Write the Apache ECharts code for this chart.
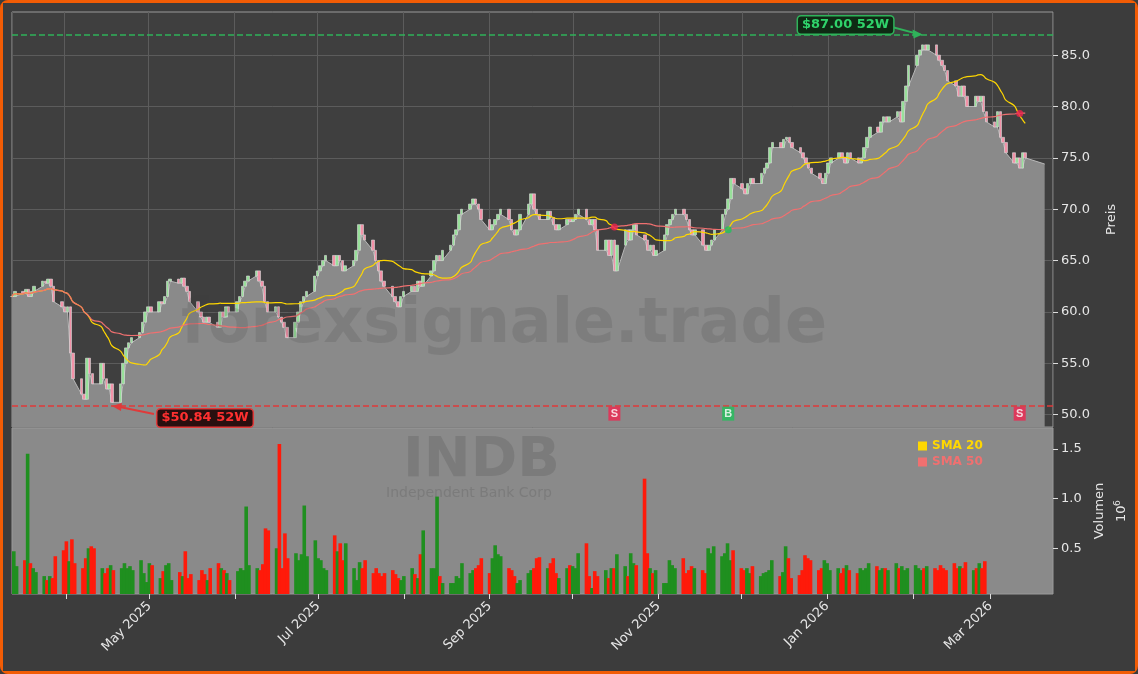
<!DOCTYPE html>
<html>
<head>
<meta charset="utf-8">
<script src="https://cdn.jsdelivr.net/npm/echarts@6/dist/echarts.min.js"></script>
<style>
  html, body { margin: 0; padding: 0; background: #3c3c3c; }
  #main { width: 1132px; height: 668px; border: 3px solid #f25c05; border-radius: 8px; background: #3c3c3c; }
</style>
</head>
<body>
<div id="main"></div>
<script>
const startDate = "2025-03-13";
const closes = [
  61.5, 62, 61.8, 62.2, 61.5,   62, 62.5, 63, 62.8, 63.2,   62.5, 61, 60.5, 60, 60.5,
  56, 53.5, 52, 51.5, 55.5,     54, 53, 55, 53.5, 52.5,     53, 51.2, 53, 55, 56.5,
  57, 57.5, 58, 59, 60,         60.5, 60, 61, 60.8, 61.5,   63, 63.2, 62.8, 63.3, 62.5,
  62, 61, 60, 59.5, 59,         59.5, 59, 58.5, 60, 59.5,   60.5, 60, 61, 61.5, 62.5,
  63, 63.5, 64, 63, 62.5,       61, 60, 60.5, 59.5, 59,     58.5, 57.5, 59, 60, 61,
  61.5, 62, 63.5, 64, 64.5,     65, 65.5, 64.5, 65.5, 65,   64, 64.5, 65, 66, 68.5,
  67.5, 67, 66, 65, 64,         63, 62.5, 61.5, 61, 60.5,   61.5, 62, 62.5, 62, 63,
  62.5, 63.5, 64, 65, 65.5,     65, 66, 66.5, 67.5, 68,     69.5, 70, 70.5, 71, 70.5,
  70, 69, 68, 68.5, 69,         69.5, 70, 69, 68, 67.5,     68, 69.5, 70.5, 71.5, 70,
  69.5, 69, 69.8, 69.2, 68.5,   68, 68.5, 69, 68.8, 69,     69.5, 70, 69, 68.5, 69,
  68, 66, 67, 65.5, 67,         64, 66.5, 68, 67, 68,       68.5, 67.5, 67, 66, 66.5,
  65.5, 66, 67.5, 68.5, 69,     69.5, 70, 69.5, 69, 68,     67.5, 68, 66.5, 66, 66.5,
  67, 68, 69.5, 70, 71,         73, 72.5, 72, 71.5, 72.5,   73, 72.5, 73.5, 74, 74.5,
  76, 76.5, 76, 76.8, 77,       76.5, 76, 75.5, 75, 74.5,   74, 73.5, 73, 72.5, 73.5,
  74.5, 75, 75.5, 75, 74.5,     75.5, 75, 74.5, 75, 76,     77, 78, 77.5, 78.5, 79,
  78.5, 79, 79.5, 78.5, 80.5,   82, 84, 85, 85.5, 86,       85.5, 86, 85, 84.5, 84,
  83.5, 82.5, 82, 81, 82,       81, 80, 81, 80.5, 81,       79.5, 78.5, 78, 79.5, 77,
  76.5, 75.5, 74.5, 75, 74,     75.5, 75
];
const volumes = [
  0.47, 0.32, 0.38, 1.45, 0.35,  0.30, 0.26, 0.22, 0.18, 0.22,  0.20, 0.42, 0.48, 0.57, 0.37,
  0.59, 0.35, 0.30, 0.40, 0.50,  0.52, 0.50, 0.30, 0.25, 0.30,  0.33, 0.28, 0.30, 0.35, 0.30,
  0.32, 0.28, 0.38, 0.25, 0.16,  0.35, 0.33, 0.20, 0.27, 0.33,  0.35, 0.18, 0.26, 0.22, 0.47,
  0.20, 0.24, 0.18, 0.28, 0.24,  0.18, 0.30, 0.35, 0.30, 0.28,  0.25, 0.18, 0.27, 0.30, 0.28,
  0.92, 0.33, 0.30, 0.28, 0.34,  0.70, 0.68, 0.50, 1.55, 0.30,  0.65, 0.40, 0.45, 0.38, 0.44,
  0.93, 0.42, 0.58, 0.40, 0.38,  0.30, 0.28, 0.63, 0.47, 0.55,  0.38, 0.55, 0.30, 0.18, 0.36,
  0.30, 0.38, 0.25, 0.30, 0.25,  0.22, 0.25, 0.28, 0.24, 0.20,  0.18, 0.22, 0.30, 0.24, 0.20,
  0.44, 0.68, 0.30, 0.30, 1.02,  0.22, 0.15, 0.15, 0.15, 0.22,  0.20, 0.35, 0.25, 0.28, 0.30,
  0.33, 0.40, 0.25, 0.40, 0.53,  0.44, 0.42, 0.30, 0.28, 0.22,  0.15, 0.18, 0.25, 0.28, 0.30,
  0.40, 0.41, 0.30, 0.35, 0.40,  0.25, 0.20, 0.30, 0.33, 0.32,  0.30, 0.45, 0.55, 0.22, 0.10,
  0.27, 0.22, 0.28, 0.20, 0.30,  0.30, 0.44, 0.32, 0.22, 0.45,  0.35, 0.33, 1.20, 0.45, 0.30,
  0.25, 0.28, 0.15, 0.15, 0.38,  0.33, 0.30, 0.40, 0.25, 0.28,  0.32, 0.30, 0.28, 0.25, 0.50,
  0.45, 0.52, 0.42, 0.45, 0.55,  0.38, 0.48, 0.30, 0.28, 0.30,  0.25, 0.32, 0.22, 0.25, 0.26,
  0.28, 0.38, 0.22, 0.26, 0.52,  0.40, 0.20, 0.23, 0.28, 0.43,  0.40, 0.38, 0.28, 0.30, 0.38,
  0.35, 0.28, 0.30, 0.25, 0.30,  0.33, 0.28, 0.25, 0.30, 0.28,  0.30, 0.35, 0.32, 0.28, 0.30,
  0.30, 0.28, 0.35, 0.30, 0.32,  0.28, 0.30, 0.33, 0.30, 0.28,  0.30, 0.32, 0.30, 0.28, 0.33,
  0.30, 0.28, 0.35, 0.30, 0.32,  0.30, 0.36, 0.28, 0.30, 0.35,  0.30, 0.37
];
const high52 = 87.00;
const low52 = 50.84;
const priceTicks = [50, 55, 60, 65, 70, 75, 80, 85];
const volumeTicks = [0.5, 1.0, 1.5];
const areaTailDate = "2026-03-20";
const areaTailValue = 74.4;
const monthNames = ["Jan","Feb","Mar","Apr","May","Jun","Jul","Aug","Sep","Oct","Nov","Dec"];

// trading days (Mon-Fri) from startDate
const dates = [];
let d = new Date(startDate + "T00:00:00");
while (dates.length < closes.length) {
  if (d.getDay() !== 0 && d.getDay() !== 6) {
    dates.push(d.getFullYear() + "-" + String(d.getMonth() + 1).padStart(2, "0") + "-" + String(d.getDate()).padStart(2, "0"));
  }
  d.setDate(d.getDate() + 1);
}
const opens = closes.map((c, i) => (i === 0 ? c : closes[i - 1]));
const candles = closes.map((c, i) => [dates[i], opens[i], c, Math.min(opens[i], c), Math.max(opens[i], c)]);
const lows = closes.map((c, i) => [dates[i], Math.min(opens[i], c)]);
lows.push([areaTailDate, areaTailValue]);

function sma(n) {
  return closes.map((c, i) => {
    const s = closes.slice(Math.max(0, i - n + 1), i + 1);
    return [dates[i], s.reduce((a, b) => a + b, 0) / s.length];
  });
}
const sma20 = sma(20);
const sma50 = sma(50);

const crossDots = [];
const signals = [];
for (let i = 50; i < closes.length; i++) {
  const a = sma20[i - 1][1] - sma50[i - 1][1];
  const b = sma20[i][1] - sma50[i][1];
  if (a <= 0 && b > 0) {
    crossDots.push({ value: [dates[i], sma50[i][1]], itemStyle: { color: "#1fc15a" } });
    signals.push({ value: [dates[i], 50.1], name: "B", itemStyle: { color: "#1fc15a" } });
  } else if (a >= 0 && b < 0) {
    crossDots.push({ value: [dates[i], sma50[i][1]], itemStyle: { color: "#f0244f" } });
    signals.push({ value: [dates[i], 50.1], name: "S", itemStyle: { color: "#f0244f" } });
  }
}

const volData = volumes.map((v, i) => ({
  value: [dates[i], v],
  itemStyle: { color: closes[i] >= opens[i] ? "#1f8f1f" : "#ff1a0a" }
}));

const axisText = { color: "#e6e6e6", fontSize: 13, fontFamily: "DejaVu Sans" };

var myChart = echarts.init(document.getElementById("main"));
const options = {
  backgroundColor: "#3c3c3c",
  animation: false,
  grid: [
    { left: 9, right: 82, top: 9, height: 415, show: true, backgroundColor: "#3f3f3f", borderColor: "#9a9a9a" },
    { left: 9, right: 82, top: 425, height: 166, show: true, backgroundColor: "#8a8a8a", borderColor: "#9a9a9a" }
  ],
  legend: {
    orient: "vertical", left: 910, top: 432, itemWidth: 9, itemHeight: 9, itemGap: 4, icon: "rect",
    data: [
      { name: "SMA 20", textStyle: { color: "#ffd700" } },
      { name: "SMA 50", textStyle: { color: "#f07070" } }
    ],
    textStyle: { fontWeight: "bold", fontSize: 12, fontFamily: "DejaVu Sans" }
  },
  xAxis: [
    {
      type: "time", gridIndex: 0, min: "2025-03-13", max: "2026-03-23",
      minInterval: 28 * 86400000, maxInterval: 31 * 86400000,
      axisLabel: { show: false }, axisTick: { show: false }, axisLine: { show: false },
      splitLine: { show: true, lineStyle: { color: "#5c5c5c" } }
    },
    {
      type: "time", gridIndex: 1, min: "2025-03-13", max: "2026-03-23",
      minInterval: 28 * 86400000, maxInterval: 31 * 86400000,
      axisLine: { show: false }, axisTick: { show: true, lineStyle: { color: "#ddd" }, length: 5 },
      splitLine: { show: false },
      axisLabel: Object.assign({}, axisText, {
        rotate: 45, margin: 10, hideOverlap: false,
        formatter: function (v) {
          const dt = new Date(v);
          if (dt.getMonth() % 2 !== 0) return "";
          return monthNames[dt.getMonth()] + " " + dt.getFullYear();
        }
      })
    }
  ],
  yAxis: [
    {
      type: "value", gridIndex: 0, position: "right", min: 48.8, max: 89.2,
      name: "Preis", nameLocation: "middle", nameGap: 52, nameRotate: 90, nameTextStyle: axisText,
      axisLine: { show: false },
      axisTick: { show: true, lineStyle: { color: "#ddd" }, customValues: priceTicks },
      axisLabel: Object.assign({}, axisText, { customValues: priceTicks, formatter: v => v.toFixed(1) }),
      splitLine: { show: false }
    },
    {
      type: "value", gridIndex: 1, position: "right", min: 0.04, max: 1.71,
      name: "Volumen", nameLocation: "middle", nameGap: 40, nameRotate: 90, nameTextStyle: axisText,
      axisLine: { show: false },
      axisTick: { show: true, lineStyle: { color: "#ddd" }, customValues: volumeTicks },
      axisLabel: Object.assign({}, axisText, { customValues: volumeTicks, formatter: v => v.toFixed(1) }),
      splitLine: { show: false }
    }
  ],
  graphic: [
    { type: "text", left: 178, top: 292, z: 100, silent: true, style: { text: "forexsignale.trade", fill: "rgba(60,60,60,0.16)", font: "bold 62px DejaVu Sans" } },
    { type: "text", left: 400, top: 430, z: 100, silent: true, style: { text: "INDB", fill: "rgba(90,90,90,0.3)", font: "bold 56px DejaVu Sans" } },
    { type: "text", left: 383, top: 483, z: 100, silent: true, style: { text: "Independent Bank Corp", fill: "rgba(90,90,90,0.3)", font: "14px DejaVu Sans" } },
    { type: "text", x: 1112, y: 519, style: { text: "10", fill: "#e6e6e6", font: "13px DejaVu Sans" }, rotation: Math.PI / 2 },
    { type: "text", x: 1110, y: 503, style: { text: "6", fill: "#e6e6e6", font: "9px DejaVu Sans" }, rotation: Math.PI / 2 }
  ],
  series: [
    {
      name: "area", type: "line", xAxisIndex: 0, yAxisIndex: 0, data: lows, symbol: "none", z: 1,
      lineStyle: { color: "#b8b8b8", width: 1 }, areaStyle: { color: "#8a8a8a", opacity: 1 },
      markLine: {
        symbol: "none", silent: true, label: { show: false }, z: 0,
        lineStyle: { color: "#5c5c5c", type: "solid", width: 1 },
        data: priceTicks.map(v => ({ yAxis: v }))
      }
    },
    {
      name: "price", type: "candlestick", xAxisIndex: 0, yAxisIndex: 0, data: candles, barWidth: 3, z: 3,
      encode: { x: 0, y: [1, 2, 3, 4] },
      itemStyle: { color: "#98e09a", color0: "#f392a8", borderColor: "#dcdcdc", borderColor0: "#dcdcdc", borderWidth: 0.6 },
      markLine: {
        symbol: "none", silent: true, label: { show: false },
        data: [
          { yAxis: high52, lineStyle: { color: "#2fb35a", type: "dashed", width: 1.5 } },
          { yAxis: low52, lineStyle: { color: "#e03a3a", type: "dashed", width: 1.5 } }
        ]
      }
    },
    { name: "SMA 20", type: "line", xAxisIndex: 0, yAxisIndex: 0, data: sma20, symbol: "none", smooth: true, z: 4, color: "#ffd700", lineStyle: { width: 1.2 } },
    { name: "SMA 50", type: "line", xAxisIndex: 0, yAxisIndex: 0, data: sma50, symbol: "none", smooth: true, z: 4, color: "#f07070", lineStyle: { width: 1.2 } },
    { name: "cross", type: "scatter", xAxisIndex: 0, yAxisIndex: 0, data: crossDots, symbolSize: 7, z: 5 },
    {
      name: "signals", type: "scatter", xAxisIndex: 0, yAxisIndex: 0, data: signals, symbol: "rect", symbolSize: [12, 14], z: 5,
      label: { show: true, position: "inside", formatter: p => p.name, color: "#fff", fontWeight: "bold", fontSize: 11 }
    },
    { name: "vol", type: "bar", xAxisIndex: 1, yAxisIndex: 1, data: volData, barWidth: 3.6 }
  ]
};
myChart.setOption(options);

// 52W labels with arrows
let hiIdx = closes.indexOf(Math.max(...closes));
let loIdx = closes.indexOf(Math.min(...closes));
const hiPt = myChart.convertToPixel({ gridIndex: 0 }, [dates[hiIdx], high52]);
const loPt = myChart.convertToPixel({ gridIndex: 0 }, [dates[loIdx], low52]);
const extra = [
  { type: "line", shape: { x1: hiPt[0] - 38, y1: 22, x2: hiPt[0] - 2, y2: hiPt[1] }, style: { stroke: "#2fb35a", lineWidth: 2 }, z: 20 },
  { type: "polygon", shape: { points: [[hiPt[0], hiPt[1]], [hiPt[0] - 10, hiPt[1] - 5], [hiPt[0] - 9, hiPt[1] + 4]] }, style: { fill: "#2fb35a" }, z: 20 },
  {
    type: "text", left: hiPt[0] - 126, top: 12, z: 21,
    style: { text: "$" + high52.toFixed(2) + " 52W", fill: "#2fd36a", font: "bold 13px DejaVu Sans", backgroundColor: "#0f2a14", borderColor: "#2fb35a", borderWidth: 1.5, borderRadius: 3, padding: [2, 4] }
  },
  { type: "line", shape: { x1: loPt[0] + 42, y1: loPt[1] + 8, x2: loPt[0] + 3, y2: loPt[1] }, style: { stroke: "#e03a3a", lineWidth: 2 }, z: 20 },
  { type: "polygon", shape: { points: [[loPt[0], loPt[1]], [loPt[0] + 10, loPt[1] - 3], [loPt[0] + 9, loPt[1] + 5]] }, style: { fill: "#e03a3a" }, z: 20 },
  {
    type: "text", left: loPt[0] + 44, top: loPt[1] + 2, z: 21,
    style: { text: "$" + low52.toFixed(2) + " 52W", fill: "#ff3030", font: "bold 13px DejaVu Sans", backgroundColor: "#2a0f0f", borderColor: "#e03a3a", borderWidth: 1.5, borderRadius: 3, padding: [2, 4] }
  }
];
myChart.setOption({ graphic: options.graphic.concat(extra) });
window.onresize = function () { myChart.resize(); };
</script>
</body>
</html>
